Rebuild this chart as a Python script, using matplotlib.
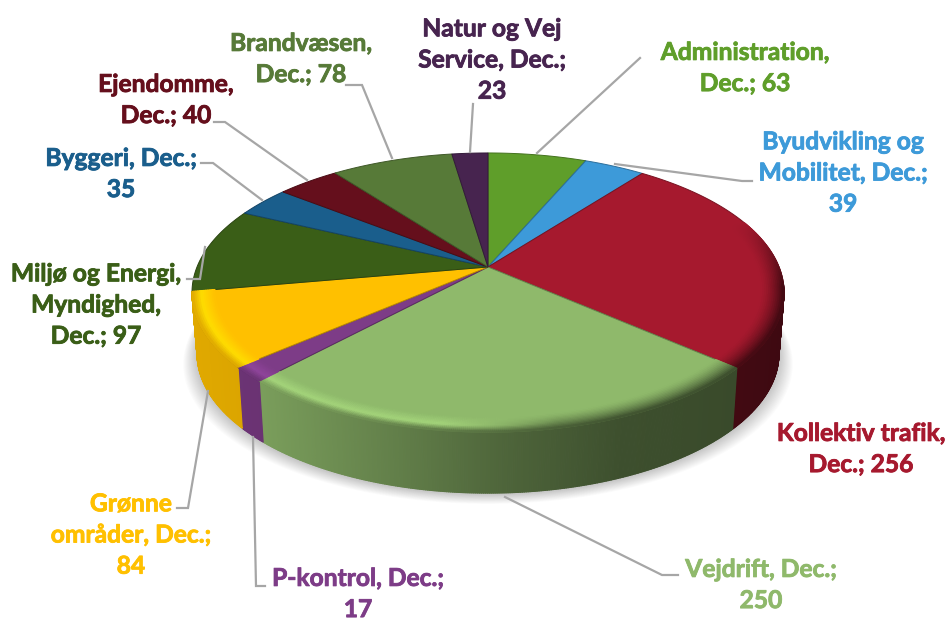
import numpy as np
import matplotlib
matplotlib.use("Agg")
import matplotlib.pyplot as plt
import matplotlib.patheffects as pe
from matplotlib.collections import PolyCollection
from matplotlib.colors import to_rgb

categories = ["Administration", "Byudvikling og Mobilitet", "Kollektiv trafik", "Vejdrift", "P-kontrol",
              "Grønne områder", "Miljø og Energi, Myndighed", "Byggeri", "Ejendomme", "Brandvæsen",
              "Natur og Vej Service"]
values = [63, 39, 256, 250, 17, 84, 97, 35, 40, 78, 23]
label_texts = ["Administration,\nDec.; 63", "Byudvikling og\nMobilitet, Dec.;\n39", "Kollektiv trafik,\nDec.; 256",
               "Vejdrift, Dec.;\n250", "P-kontrol, Dec.;\n17", "Grønne\nområder, Dec.;\n84",
               "Miljø og Energi,\nMyndighed,\nDec.; 97", "Byggeri, Dec.;\n35", "Ejendomme,\nDec.; 40",
               "Brandvæsen,\nDec.; 78", "Natur og Vej\nService, Dec.;\n23"]
colors = ["#5F9E2A", "#3D9AD9", "#A6192E", "#8FB96B", "#7D3C87", "#FFC000", "#3A5E17",
          "#1A5E8C", "#650F1C", "#577A38", "#47244F"]

label_pos = [(745, 67), (843, 172), (861, 448), (761, 584), (358, 593), (131, 534), (96, 304), (121, 173),
             (166, 99), (301, 58), (492, 59)]
leaders = [[(537, 153), (640, 58)],
           [(615, 164), (742, 181), (752, 181)],
           None,
           [(505, 497), (662, 575), (678, 575)],
           [(253, 437), (256, 586), (265, 586)],
           [(208, 391), (188, 508), (177, 508)],
           [(205, 247), (200, 279), (187, 279)],
           [(262, 200), (213, 163), (201, 163)],
           [(307, 180), (225, 122), (214, 122)],
           [(392, 158), (362, 85), (346, 85)],
           [(470, 152), (473, 104)]]

CX, CY, A, B, C = 488.0, 267.0, 134.9, 0.183, 291.0
DEPTH, SHRINK = 61.0, 0.983


def top(theta, r=1.0):
    u, v = r * np.sin(theta), r * np.cos(theta)
    d = 1 + B * v
    return CX + C * u / d, CY - A * v / d


def bottom(theta):
    x, y = top(theta)
    return CX + SHRINK * (x - CX), y + DEPTH


def side_factor(x):
    return np.interp(x, [190, 262, 400, 500, 620, 735, 790], [.88, .85, .68, .55, .43, .40, .37])


fig = plt.figure(figsize=(9.47, 6.23), dpi=100, facecolor="white")
ax = fig.add_axes([0, 0, 1, 1])
ax.set_xlim(0, 947)
ax.set_ylim(623, 0)
ax.axis("off")

# soft shadow
tt = np.linspace(0, 2 * np.pi, 361)
bx, by = bottom(tt)
for k in np.linspace(14, 1, 14):
    ax.fill(CX + (bx - CX) * (1 + k / 295), by + k * 0.7 + 1, color="black", alpha=0.016, lw=0, zorder=1)

edges = np.cumsum([0] + values) / sum(values) * 2 * np.pi
WALL_LIMIT = edges[6]

# side wall
polys, cols = [], []
for i, col in enumerate(colors):
    rgb = np.array(to_rgb(col))
    n = max(int((edges[i + 1] - edges[i]) * 180), 4)
    th = np.linspace(edges[i], edges[i + 1], n + 1)
    for a, b in zip(th[:-1], th[1:]):
        m = 0.5 * (a + b)
        if np.cos(m) > -0.12 or m > WALL_LIMIT:
            continue
        xa, ya = top(a)
        xb, yb = top(b)
        xc, yc = bottom(b)
        xd, yd = bottom(a)
        polys.append([(xa, ya), (xb, yb), (xc, yc), (xd, yd)])
        cols.append(rgb * side_factor(0.5 * (xa + xb)))
ax.add_collection(PolyCollection(polys, facecolors=cols, edgecolors=cols, linewidths=0.8, zorder=2))

# top face
for i, col in enumerate(colors):
    th = np.linspace(edges[i], edges[i + 1], 120)
    x, y = top(th)
    ax.fill(np.r_[CX, x], np.r_[CY, y], facecolor=col, edgecolor=np.array(to_rgb(col)) * 0.72, lw=0.7, zorder=3)

# rounded bevel along the front rim
polys, cols = [], []
rs = np.linspace(0.925, 1.0, 13)
for i, col in enumerate(colors):
    rgb = np.array(to_rgb(col))
    n = max(int((edges[i + 1] - edges[i]) * 180), 4)
    th = np.linspace(edges[i], edges[i + 1], n + 1)
    for a, b in zip(th[:-1], th[1:]):
        m = 0.5 * (a + b)
        if m > WALL_LIMIT:
            continue
        strength = np.clip((0.35 - np.cos(m)) / 0.5, 0, 1)
        if strength <= 0:
            continue
        xm = top(m)[0]
        f = side_factor(xm)
        light = np.clip((560 - xm) / 120, 0, 1)
        for r0, r1 in zip(rs[:-1], rs[1:]):
            t = (0.5 * (r0 + r1) - rs[0]) / (rs[-1] - rs[0])
            dark = rgb * f
            if light > 0:
                lit = np.clip(rgb * 1.15, 0, 1)
                c_light = rgb + (lit - rgb) * (t / 0.6) if t < 0.6 else lit + (dark - lit) * ((t - 0.6) / 0.4)
            else:
                c_light = rgb
            c_dark = rgb + (dark - rgb) * t ** 1.5
            c = light * c_light + (1 - light) * c_dark
            c = rgb + (c - rgb) * strength
            polys.append([top(a, r0), top(b, r0), top(b, r1), top(a, r1)])
            cols.append(c)
ax.add_collection(PolyCollection(polys, facecolors=cols, edgecolors=cols, linewidths=0.8, zorder=4))

# leaders
for pts in leaders:
    if pts:
        ax.plot(*zip(*pts), color="#A6A6A6", lw=1.6, solid_joinstyle="miter", zorder=5)

# labels
for txt, pos, col in zip(label_texts, label_pos, colors):
    ax.text(pos[0], pos[1] + 1, txt, color=col, family="Lato", weight="bold", fontsize=17.7,
            ha="center", va="center", linespacing=1.43, zorder=6,
            path_effects=[pe.withStroke(linewidth=0.6, foreground=col)])

fig.savefig("out.png", dpi=100, facecolor="white")
